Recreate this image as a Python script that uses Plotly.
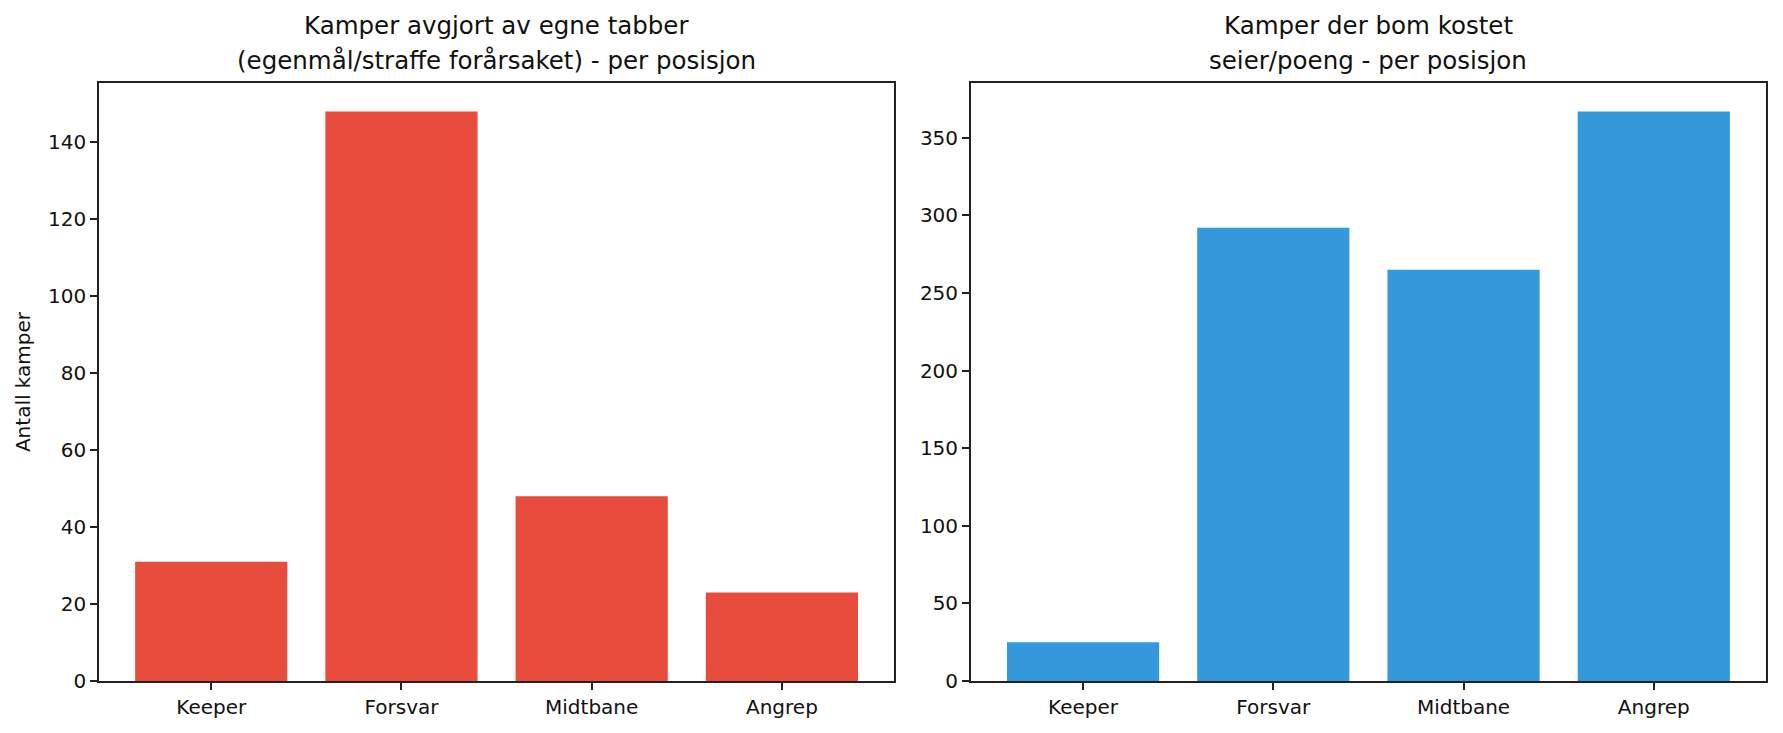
import plotly.graph_objects as go
from plotly.subplots import make_subplots

positions = ['Keeper', 'Forsvar', 'Midtbane', 'Angrep']
own_errors = [31, 148, 48, 23]
costly_misses = [25, 292, 265, 367]

title_left = ['Kamper avgjort av egne tabber', '(egenmål/straffe forårsaket) - per posisjon']
title_right = ['Kamper der bom kostet', 'seier/poeng - per posisjon']

fig = make_subplots(rows=1, cols=2, horizontal_spacing=0.046)

fig.add_trace(go.Bar(x=list(range(4)), y=own_errors, width=0.8,
                     marker=dict(color='#e74c3c', line=dict(width=0))), row=1, col=1)
fig.add_trace(go.Bar(x=list(range(4)), y=costly_misses, width=0.8,
                     marker=dict(color='#3498db', line=dict(width=0))), row=1, col=2)

axis_style = dict(showline=True, linecolor='#222', linewidth=1.5, mirror=True,
                  ticks='outside', ticklen=7, tickwidth=1.5, tickcolor='#222',
                  showgrid=False, zeroline=False,
                  tickfont=dict(family='DejaVu Sans', size=20, color='#111'))

fig.update_xaxes(**axis_style, tickvals=list(range(4)), ticktext=positions,
                 range=[-0.59, 3.59])
fig.update_yaxes(**axis_style)
fig.update_yaxes(range=[0, 155.4], tickvals=[0, 20, 40, 60, 80, 100, 120, 140],
                 title=dict(text='Antall kamper', standoff=12,
                            font=dict(family='DejaVu Sans', size=20, color='#111')),
                 row=1, col=1)
fig.update_yaxes(range=[0, 385.35], tickvals=[0, 50, 100, 150, 200, 250, 300, 350],
                 row=1, col=2)

# two-line titles, one annotation per line so the spacing matches
for lines, xref in [(title_left, 'x domain'), (title_right, 'x2 domain')]:
    for i, line in enumerate(reversed(lines)):
        fig.add_annotation(text=line, xref=xref, yref='paper', x=0.5, y=1,
                           xanchor='center', yanchor='bottom', yshift=6 + 35 * i,
                           showarrow=False,
                           font=dict(family='DejaVu Sans', size=24.5, color='#111'))

fig.update_layout(
    width=1783, height=733,
    margin=dict(l=91, r=25, t=75, b=60),
    paper_bgcolor='white', plot_bgcolor='white',
    showlegend=False,
    font=dict(family='DejaVu Sans'),
)

fig.write_html('out.html')
